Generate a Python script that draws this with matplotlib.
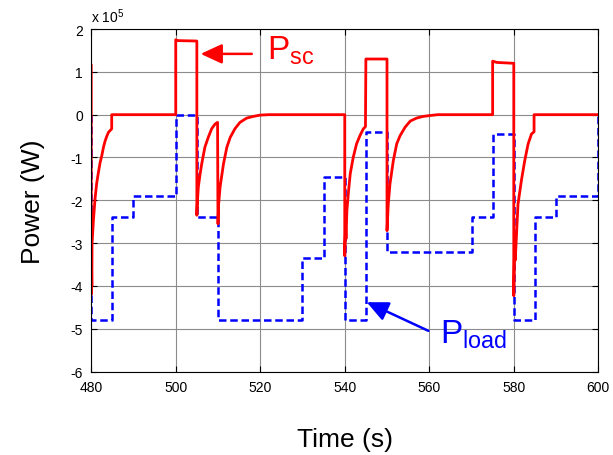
import matplotlib
matplotlib.use('Agg')
import matplotlib.pyplot as plt

plt.rcParams['font.family'] = ['Liberation Sans', 'DejaVu Sans']
plt.rcParams['mathtext.fontset'] = 'custom'
plt.rcParams['mathtext.rm'] = 'Liberation Sans'
plt.rcParams['mathtext.it'] = 'Liberation Sans:italic'
plt.rcParams['axes.unicode_minus'] = False

# power values in units of 1e5 W
# load demand (blue, piecewise constant, steps-post)
t_load = [480, 480, 485, 490, 500, 505, 510, 530, 535, 540, 545, 550, 570, 575, 580, 585, 590, 600]
p_load = [0, -4.8, -2.4, -1.9, 0, -2.4, -4.8, -3.35, -1.45, -4.8, -0.4, -3.2, -2.4, -0.45, -4.8, -2.4, -1.9, 0]

# supercapacitor power (red)
t_sc = [480, 480, 480.1, 480.15, 480.2, 480.5, 480.9, 481.3, 481.7, 482.1, 482.5, 482.9,
        483.3, 483.7, 484.1, 484.85, 484.85,
        500, 500, 500.5, 505, 505, 505.15, 505.35, 505.75, 506.15, 506.9, 507.7, 508.5,
        509.3, 509.9, 510, 510.15, 510.5, 511.3, 512.1, 512.9, 514.0, 515.2, 516.8,
        518.4, 520, 522, 540, 540, 540.2, 540.3, 540.5, 540.9, 541.3, 542.0, 542.8,
        543.6, 544.4, 544.9, 545, 550, 550, 550.3, 550.7, 551.5, 552.3, 553.1, 554.3,
        555.5, 557.0, 558.6, 560.2, 562, 575, 575, 576, 580, 580, 580.2, 580.35,
        581.0, 581.8, 582.6, 583.4, 584.2, 584.8, 584.8, 600]
p_sc = [1.15, -4.2, -3.7, -4.0, -3.0, -2.5, -1.97, -1.6, -1.35, -1.12, -0.96, -0.76,
        -0.61, -0.5, -0.41, -0.33, 0,
        0, 1.75, 1.73, 1.72, -2.35, -2.0, -1.69, -1.4, -1.15, -0.76, -0.53, -0.33,
        -0.22, -0.18, -2.55, -2.1, -1.69, -1.15, -0.76, -0.53, -0.33, -0.18, -0.08,
        -0.04, -0.01, 0, 0, -3.3, -2.6, -2.9, -2.25, -1.78, -1.38, -1.0, -0.68,
        -0.49, -0.33, -0.28, 1.3, 1.3, -2.71, -2.09, -1.62, -1.07, -0.68, -0.49, -0.29,
        -0.15, -0.08, -0.04, -0.02, 0, 0, 1.25, 1.22, 1.2, -4.23, -3.02, -3.4,
        -2.09, -1.54, -1.07, -0.68, -0.45, -0.4, 0, 0]

fig = plt.figure(figsize=(6.13, 4.56), dpi=100)
ax = fig.add_axes([0.1488, 0.1831, 0.8272, 0.751])

ax.plot(t_load, p_load, color='#0000ff', linewidth=1.8, linestyle=(0, (3, 1.5)),
        drawstyle='steps-post')
ax.plot(t_sc, p_sc, color='#ff0000', linewidth=2.0)

ax.set_xlim(480, 600)
ax.set_ylim(-6, 2)
ax.set_xticks(range(480, 601, 20))
ax.set_yticks(range(-6, 3))
ax.grid(True, color='#8c8c8c', linewidth=0.8)
ax.set_axisbelow(True)
ax.tick_params(direction='in', length=4, width=0.8, top=True, right=True,
               labelsize=10, pad=6)
for s in ax.spines.values():
    s.set_linewidth(0.8)

ax.text(0.0, 1.02, r'x 10$^{5}$', transform=ax.transAxes, fontsize=10,
        ha='left', va='baseline')

ax.set_xlabel('Time (s)', fontsize=19, labelpad=24)
ax.set_ylabel('Power (W)', fontsize=19, labelpad=18)

# annotations
ax.annotate('', xy=(505.9, 1.42), xytext=(518.0, 1.42),
            arrowprops=dict(arrowstyle='-|>,head_length=1.3,head_width=0.6',
                            color='#ff0000', lw=1.8, shrinkA=0, shrinkB=0))
ax.text(521.7, 1.30, r'$\mathrm{P_{sc}}$', color='#ff0000', fontsize=24,
        ha='left', va='baseline')

ax.annotate('', xy=(545.2, -4.38), xytext=(559.8, -5.05),
            arrowprops=dict(arrowstyle='-|>,head_length=1.3,head_width=0.6',
                            color='#0000ff', lw=1.8, shrinkA=0, shrinkB=0))
ax.text(562.6, -5.32, r'$\mathrm{P_{load}}$', color='#0000ff', fontsize=24,
        ha='left', va='baseline')

plt.savefig('out.png', dpi=100)
